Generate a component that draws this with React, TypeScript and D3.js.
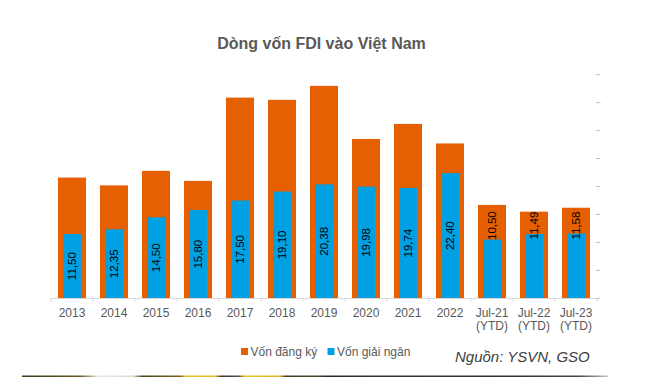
import React from "react";
import * as d3 from "d3";

const categories = ["2013","2014","2015","2016","2017","2018","2019","2020","2021","2022","Jul-21\n(YTD)","Jul-22\n(YTD)","Jul-23\n(YTD)"];
const registered = [21.6, 20.2, 22.8, 21.0, 35.9, 35.5, 38.0, 28.5, 31.2, 27.7, 16.7, 15.5, 16.2];
const disbursed = [11.5, 12.35, 14.5, 15.8, 17.5, 19.1, 20.38, 19.98, 19.74, 22.4, 10.5, 11.49, 11.58];
const yTicks = [0, 5, 10, 15, 20, 25, 30, 35, 40];
const ytdLabelValue = 13;

const W = 658, H = 377;
const ORANGE = "#E65F00";
const BLUE = "#00A0E2";
const FONT = "Liberation Sans, Arial, sans-serif";

export default function App() {
  const x = d3.scaleBand<string>().domain(categories).range([51, 597]).paddingInner(1 / 3).paddingOuter(1 / 6);
  const y = d3.scaleLinear().domain([0, 40]).range([298.3, 74.7]);
  const step = x.step();
  const ow = x.bandwidth();
  const bw = 18;
  const fmt = (v: number) => v.toFixed(2).replace(".", ",");
  const boundaries = d3.range(categories.length + 1).map(i => 51 + i * step);

  const stripStops: [number, string][] = [
    [0, "#3b3a1c"], [0.1, "#6b5a22"], [0.13, "#e6e6e2"], [0.19, "#dedad0"], [0.205, "#4a4522"],
    [0.27, "#7a6320"], [0.28, "#e8c424"], [0.33, "#e0be22"], [0.34, "#3a3433"], [0.37, "#5a4f4a"],
    [0.38, "#e6c626"], [0.44, "#d9b424"], [0.45, "#3e3a24"], [0.5, "#544a30"], [0.52, "#2c2a24"],
    [0.7, "#3a3630"], [0.8, "#2e2c28"], [0.95, "#4a4640"], [1, "#c8c6c0"]
  ];

  return (
    <svg width={W} height={H} style={{ position: "absolute", left: 0, top: 0, background: "#fff" }} fontFamily={FONT}>
      <defs>
        <linearGradient id="strip" x1="0" x2="1" y1="0" y2="0">
          {stripStops.map(([o, c], i) => <stop key={i} offset={o} stopColor={c} />)}
        </linearGradient>
      </defs>
      <rect x={0} y={0} width={W} height={H} fill="#fff" />
      <text x={321.5} y={48.5} textAnchor="middle" fontSize={16} fontWeight="bold" fill="#595959">Dòng vốn FDI vào Việt Nam</text>

      {yTicks.map(t => (
        <line key={t} x1={596} x2={600.5} y1={y(t)} y2={y(t)} stroke="#BFBFBF" strokeWidth={1} />
      ))}

      {categories.map((c, i) => {
        const x0 = x(c)!;
        const cx = x0 + ow / 2;
        const ytd = c.includes("YTD");
        const labelY = ytd ? y(ytdLabelValue) : (y(disbursed[i]) + y(0)) / 2;
        return (
          <g key={c}>
            <rect x={x0} y={y(registered[i])} width={ow} height={y(0) - y(registered[i])} fill={ORANGE} />
            <rect x={cx - bw / 2} y={y(disbursed[i])} width={bw} height={y(0) - y(disbursed[i])} fill={BLUE} />
            <text transform={`translate(${cx},${labelY}) rotate(-90)`} textAnchor="middle" dominantBaseline="central" fontSize={11.5} fill="#000">{fmt(disbursed[i])}</text>
            {c.split("\n").map((ln, k) => (
              <text key={k} x={cx} y={316.5 + k * 13.5} textAnchor="middle" fontSize={12} fill="#595959">{ln}</text>
            ))}
          </g>
        );
      })}

      <line x1={51} x2={597} y1={298.5} y2={298.5} stroke="#D9D9D9" strokeWidth={1} />
      {boundaries.map((bx, i) => (
        <line key={i} x1={bx} x2={bx} y1={298.5} y2={302} stroke="#D9D9D9" strokeWidth={1} />
      ))}

      <rect x={241} y={348} width={7} height={7} fill={ORANGE} />
      <text x={250.5} y={355.5} fontSize={12} fill="#595959">Vốn đăng ký</text>
      <rect x={327.5} y={348} width={7} height={7} fill={BLUE} />
      <text x={337} y={355.5} fontSize={12} fill="#595959">Vốn giải ngân</text>

      <text x={455} y={362} fontSize={15} fontStyle="italic" fill="#404040">Nguồn: YSVN, GSO</text>

      <rect x={22} y={375.5} width={586} height={1.5} fill="url(#strip)" />
    </svg>
  );
}
